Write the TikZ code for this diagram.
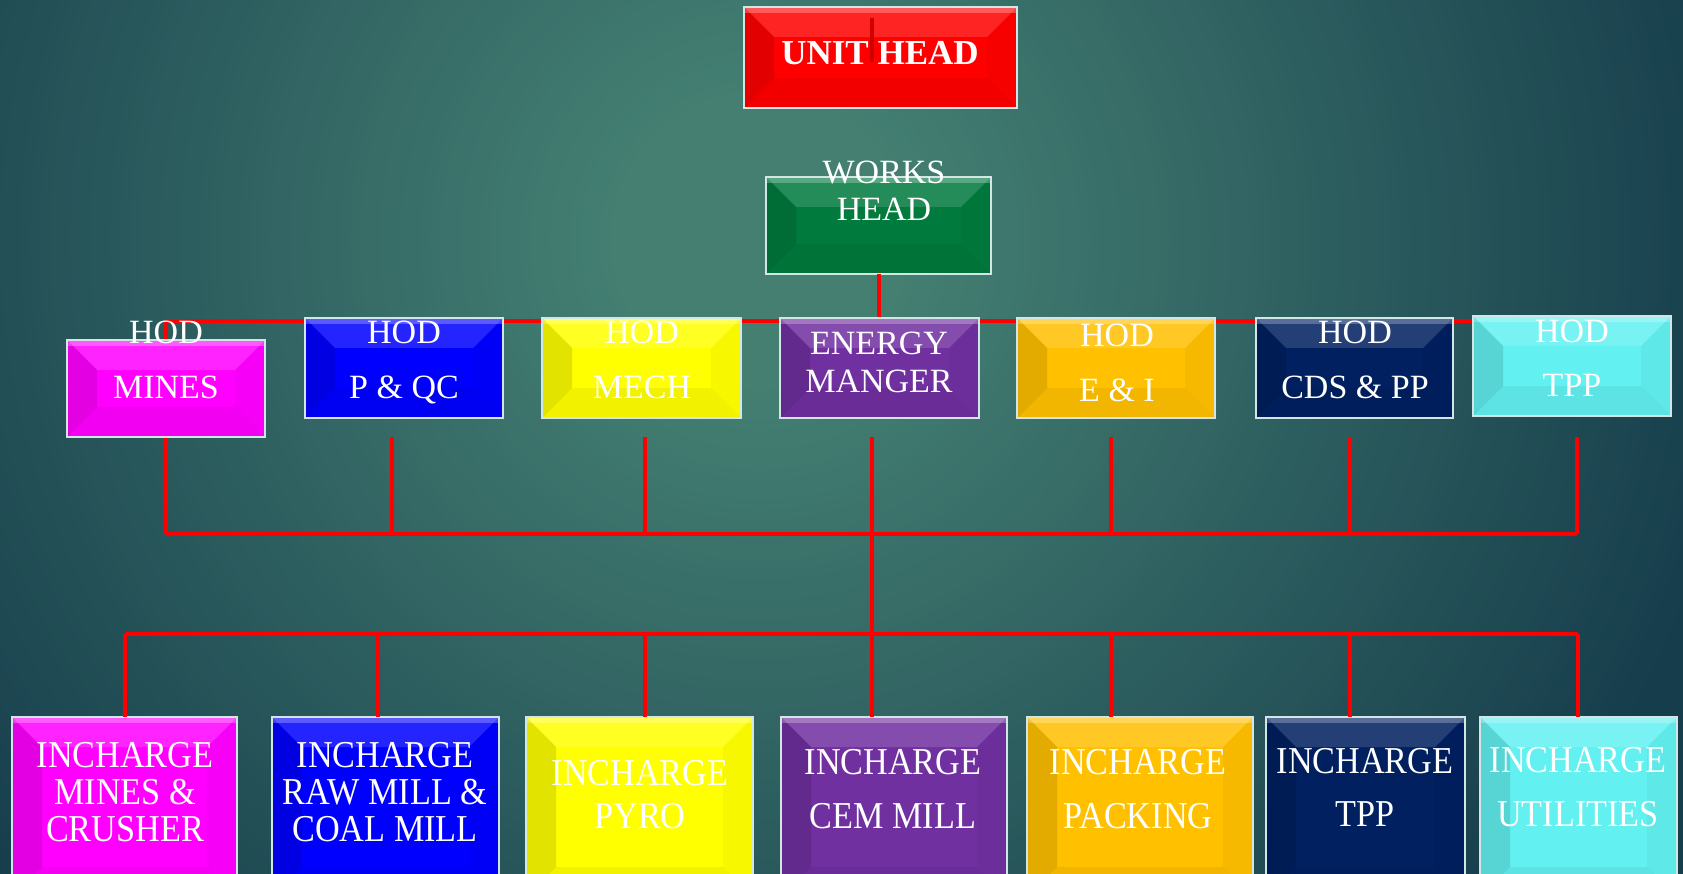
\documentclass[tikz,border=0pt]{standalone}
\usepackage{fontspec}
\setmainfont{Liberation Serif}
\newfontfamily\condfont[FakeStretch=0.9]{Liberation Serif}
\usetikzlibrary{calc}
\definecolor{bgin}{HTML}{447F72}
\definecolor{bgout}{HTML}{163D4C}
\definecolor{edgec}{HTML}{D2E6E6}
\definecolor{cred}{HTML}{FF0000}
\definecolor{cgreen}{HTML}{007A3D}
\definecolor{cmag}{HTML}{FF00FF}
\definecolor{cblue}{HTML}{0000FF}
\definecolor{cyel}{HTML}{FFFF00}
\definecolor{cpur}{HTML}{7030A0}
\definecolor{cgold}{HTML}{FFC000}
\definecolor{cnavy}{HTML}{002060}
\definecolor{ccyan}{HTML}{62F0F0}
\definecolor{darkmark}{HTML}{D00000}
\newcommand\bevel{%
  \coordinate (pnw) at (path picture bounding box.north west);
  \coordinate (pne) at (path picture bounding box.north east);
  \coordinate (psw) at (path picture bounding box.south west);
  \coordinate (pse) at (path picture bounding box.south east);
  \coordinate (qnw) at ([shift={(30,30)}]pnw);
  \coordinate (qne) at ([shift={(-30,30)}]pne);
  \coordinate (qsw) at ([shift={(30,-30)}]psw);
  \coordinate (qse) at ([shift={(-30,-30)}]pse);
  \fill[white,opacity=.14] (pnw) -- (pne) -- (qne) -- (qnw) -- cycle;
  \fill[black,opacity=.11] (pnw) -- (qnw) -- (qsw) -- (psw) -- cycle;
  \fill[black,opacity=.05] (psw) -- (qsw) -- (qse) -- (pse) -- cycle;
  \fill[black,opacity=.03] (pne) -- (qne) -- (qse) -- (pse) -- cycle;
  \fill[white,opacity=.25] (pnw) rectangle ([shift={(0,6)}]pne);
}
\tikzset{
  box/.style={draw=edgec, line width=1.3pt, fill=#1, inner sep=0pt, outer sep=0pt, path picture={\bevel}},
  tx/.style={text=white, anchor=base, inner sep=0pt, font=\fontsize{34}{40}\selectfont},
  btx/.style={text=white, anchor=base, inner sep=0pt, font=\condfont\fontsize{38}{40}\selectfont},
  link/.style={draw=cred, line width=4pt},
}
\begin{document}
\begin{tikzpicture}[x=1pt,y=-1pt]
\useasboundingbox (0,0) rectangle (1683,874);
\begin{scope}
\clip (0,0) rectangle (1683,874);
\fill[bgout] (0,0) rectangle (1683,874);
\foreach \r in {1200,1190,...,10}{
  \pgfmathsetmacro\p{max(0,min(100,100*(1-(\r-150)/850)))}
  \fill[bgin!\p!bgout] (760,240) circle (\r);
}

% coordinates for connectors
\coordinate (tp1) at (166,321);
\coordinate (tp7) at (1572,321);
\foreach \i/\x in {1/166,2/392,3/645,4/872,5/1111,6/1350,7/1577}{
  \coordinate (d\i) at (\x,437);
  \coordinate (m\i) at (\x,534);
}
\foreach \i/\x in {1/125,2/378,3/645,4/872,5/1111,6/1350,7/1578}{
  \coordinate (n\i) at (\x,634);
}
\coordinate (uhm1) at (872,18);
\coordinate (uhm2) at (872,62);

% boxes (nodes)
\node[box=cred, minimum width=273pt, minimum height=101pt] (uh) at (880.5,57.5) {};
\node[box=cgreen, minimum width=225pt, minimum height=97pt] (wh) at (878.5,225.5) {};

% top bus and links (behind row 2)
\draw[link] (tp1) -- (tp7);
\draw[link] (wh.south) -- (wh.south |- tp1);
\draw[link] (tp1) -- (166,340);
% middle bus
\draw[link] (m1) -- (m7);
\foreach \i in {1,...,7}{ \draw[link] (d\i) -- (m\i); }
\draw[link] (d4) -- (n4);
% bottom bus
\draw[link] (n1) -- (n7);

\node[box=cmag,  minimum width=198pt, minimum height=97pt]  (h1) at (166,388.5) {};
\node[box=cblue, minimum width=198pt, minimum height=100pt] (h2) at (404,368) {};
\node[box=cyel,  minimum width=199pt, minimum height=100pt] (h3) at (641.5,368) {};
\node[box=cpur,  minimum width=199pt, minimum height=100pt] (h4) at (879.5,368) {};
\node[box=cgold, minimum width=198pt, minimum height=100pt] (h5) at (1116,368) {};
\node[box=cnavy, minimum width=197pt, minimum height=100pt] (h6) at (1354.5,368) {};
\node[box=ccyan, minimum width=198pt, minimum height=100pt] (h7) at (1572,366) {};

\node[box=cmag,  minimum width=225pt, minimum height=180pt, anchor=north west] (b1) at (12,717) {};
\node[box=cblue, minimum width=227pt, minimum height=180pt, anchor=north west] (b2) at (272,717) {};
\node[box=cyel,  minimum width=227pt, minimum height=180pt, anchor=north west] (b3) at (526,717) {};
\node[box=cpur,  minimum width=226pt, minimum height=180pt, anchor=north west] (b4) at (781,717) {};
\node[box=cgold, minimum width=226pt, minimum height=180pt, anchor=north west] (b5) at (1027,717) {};
\node[box=cnavy, minimum width=199pt, minimum height=180pt, anchor=north west] (b6) at (1266,717) {};
\node[box=ccyan, minimum width=197pt, minimum height=180pt, anchor=north west] (b7) at (1480,717) {};

\foreach \i in {1,...,7}{ \draw[link] (n\i) -- (n\i |- b\i.north); }

\draw[draw=darkmark, line width=4pt] (uhm1) -- (uhm2);

% texts
\node[tx, font=\bfseries\fontsize{35}{40}\selectfont] (tuh) at (880,65) {UNIT HEAD};
\node[tx] (twh1) at (884,184) {WORKS};
\node[tx] (twh2) at (884,221) {HEAD};

\node[tx] (th1a) at (166,344) {HOD};
\node[tx] (th1b) at (166,398) {MINES};
\node[tx] (th2a) at (404,344) {HOD};
\node[tx] (th2b) at (404,398) {P \& QC};
\node[tx] (th3a) at (642,344) {HOD};
\node[tx] (th3b) at (642,398) {MECH};
\node[tx] (th4a) at (879,354) {ENERGY};
\node[tx] (th4b) at (879,392) {MANGER};
\node[tx] (th5a) at (1117,347) {HOD};
\node[tx] (th5b) at (1117,401) {E \& I};
\node[tx] (th6a) at (1355,344) {HOD};
\node[tx] (th6b) at (1355,398) {CDS \& PP};
\node[tx] (th7a) at (1572,343) {HOD};
\node[tx] (th7b) at (1572,396) {TPP};

\node[btx] (tb1a) at (125,767) {INCHARGE};
\node[btx] (tb1b) at (125,804) {MINES \&};
\node[btx] (tb1c) at (125,841) {CRUSHER};
\node[btx] (tb2a) at (385,767) {INCHARGE};
\node[btx] (tb2b) at (385,804) {RAW MILL \&};
\node[btx] (tb2c) at (385,841) {COAL MILL};
\node[btx] (tb3a) at (640,785) {INCHARGE};
\node[btx] (tb3b) at (640,828) {PYRO};
\node[btx] (tb4a) at (893,774) {INCHARGE};
\node[btx] (tb4b) at (893,828) {CEM MILL};
\node[btx] (tb5a) at (1138,774) {INCHARGE};
\node[btx] (tb5b) at (1138,828) {PACKING};
\node[btx] (tb6a) at (1365,773) {INCHARGE};
\node[btx] (tb6b) at (1365,826) {TPP};
\node[btx] (tb7a) at (1578,772) {INCHARGE};
\node[btx] (tb7b) at (1578,826) {UTILITIES};
\end{scope}
\end{tikzpicture}
\end{document}
